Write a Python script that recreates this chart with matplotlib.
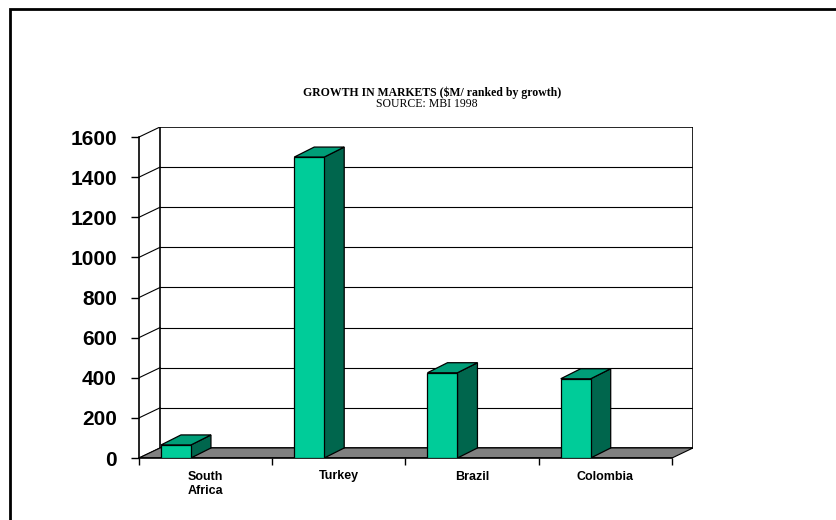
import matplotlib.pyplot as plt
from matplotlib.patches import Polygon, Rectangle

# data
countries = ['South\nAfrica', 'Turkey', 'Brazil', 'Colombia']
growth = [65, 1500, 425, 395]
y_ticks = [0, 200, 400, 600, 800, 1000, 1200, 1400, 1600]

front_col = '#00CC99'
top_col = '#009E78'
side_col = '#00664D'
floor_col = '#808080'

W, H = 836, 520
fig = plt.figure(figsize=(W / 100, H / 100), dpi=100, facecolor='white')

# depth offset of the fake 3D box, in data units
n = len(countries)
dxd = 0.1576
dyd = 50.0
ymax = y_ticks[-1]

# axes placed so the front plane lands where the reference has it
left_px, right_px, top_px, bot_px = 139, 693, 127, 458
ax = fig.add_axes([left_px / W, 1 - bot_px / H,
                   (right_px - left_px) / W, (bot_px - top_px) / H])
ax.set_xlim(0, n + dxd)
ax.set_ylim(0, ymax + dyd)
ax.patch.set_visible(False)

for s in ['top', 'right']:
    ax.spines[s].set_visible(False)
ax.spines['left'].set_bounds(0, ymax)
ax.spines['bottom'].set_bounds(0, n)
ax.spines['left'].set_linewidth(1.2)
ax.spines['bottom'].set_linewidth(1.2)

# back wall + gridlines
ax.add_patch(Rectangle((dxd, dyd), n, ymax, facecolor='white',
                       edgecolor='black', lw=1.2, zorder=1))
for v in y_ticks[1:-1]:
    ax.plot([dxd, n + dxd], [v + dyd, v + dyd], color='black', lw=0.8, zorder=1.5)
# side wall edges
for v in y_ticks:
    ax.plot([0, dxd], [v, v + dyd], color='black', lw=0.8, zorder=1.5)

# floor
ax.add_patch(Polygon([(0, 0), (n, 0), (n + dxd, dyd), (dxd, dyd)],
                     facecolor=floor_col, edgecolor='black', lw=0.8, zorder=2))

# bars
off, bw, bdx = 0.165, 0.225, 0.15
for i, v in enumerate(growth):
    x0 = i + off
    ax.add_patch(Polygon([(x0 + bw, 0), (x0 + bw + bdx, dyd),
                          (x0 + bw + bdx, v + dyd), (x0 + bw, v)],
                         facecolor=side_col, edgecolor='black', lw=0.9, zorder=3))
    ax.add_patch(Polygon([(x0, v), (x0 + bw, v), (x0 + bw + bdx, v + dyd),
                          (x0 + bdx, v + dyd)],
                         facecolor=top_col, edgecolor='black', lw=0.9, zorder=3))
    ax.bar(x0, v, width=bw, align='edge', color=front_col,
           edgecolor='black', lw=0.9, zorder=3.1)

# ticks
ax.set_yticks(y_ticks)
ax.set_yticklabels([str(t) for t in y_ticks], fontfamily='Liberation Sans',
                   fontweight='bold', fontsize=15)
ax.tick_params(axis='y', direction='out', length=6, width=1, pad=10)

ax.set_xticks([i + 0.5 for i in range(n)])
ax.set_xticklabels(countries, fontfamily='Liberation Sans', fontweight='bold',
                   fontsize=9, linespacing=1.3)
ax.tick_params(axis='x', which='major', length=0, pad=9)
ax.set_xticks(range(n + 1), minor=True)
ax.tick_params(axis='x', which='minor', direction='out', length=5, width=1)

# title
fig.text(432 / W, 1 - 93 / H, 'GROWTH IN MARKETS (\\$M/ ranked by growth)',
         fontfamily='Liberation Serif', fontweight='bold', fontsize=8.5,
         ha='center', va='center')
fig.text(427 / W, 1 - 104 / H, 'SOURCE: MBI 1998',
         fontfamily='Liberation Serif', fontsize=8.5, ha='center', va='center')

# outer frame (runs off the right and bottom edge)
fig.add_artist(Rectangle((10 / W, -0.05), 1.1, 1 - 9 / H + 0.05,
                         transform=fig.transFigure, fill=False,
                         edgecolor='black', lw=2))

fig.savefig('out.png', dpi=100, facecolor='white')
